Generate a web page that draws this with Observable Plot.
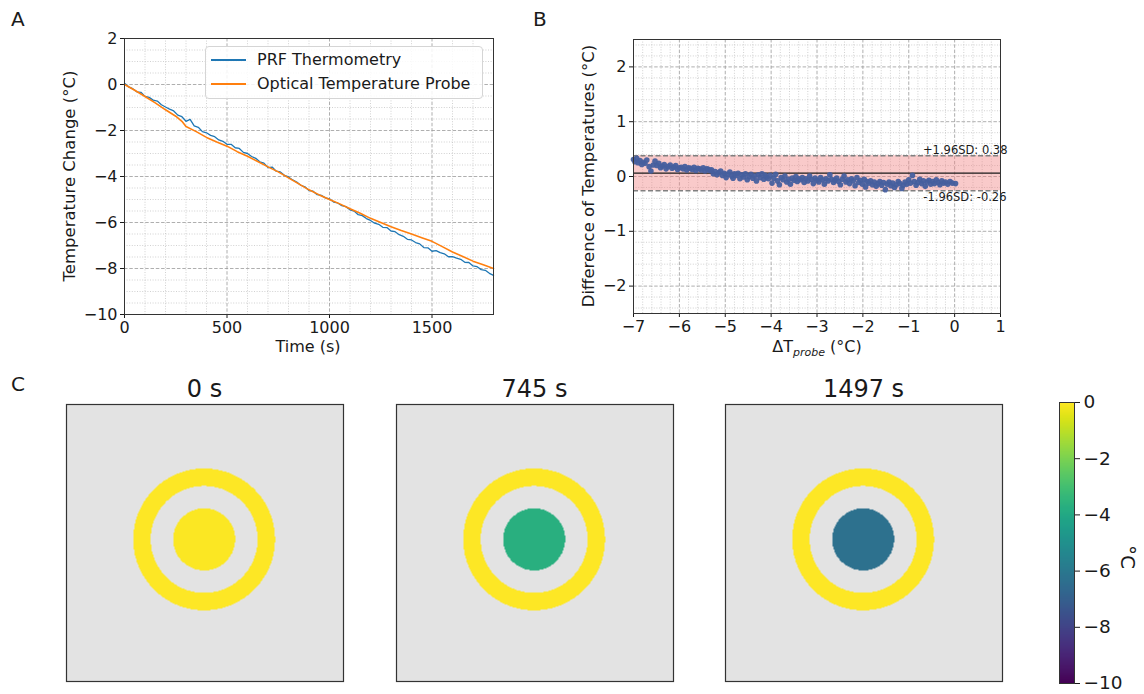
<!DOCTYPE html>
<html><head><meta charset="utf-8">
<script src="https://cdn.jsdelivr.net/npm/d3@7"></script>
<script src="https://cdn.jsdelivr.net/npm/@observablehq/plot@0.6"></script>
<style>
body{margin:0;background:#fff;font-family:"DejaVu Sans",sans-serif;}
#fig{position:relative;width:1144px;height:694px;overflow:hidden;background:#fff;}
.t{position:absolute;white-space:nowrap;color:#1a1a1a;line-height:1;}
.plot{position:absolute;}
</style></head><body><div id="fig"></div>
<script>
// ---------- Panel A data ----------
const prfTime = [0,20,40,60,80,100,120,140,160,180,200,220,240,260,280,300,320,340,360,380,400,420,440,460,480,500,520,540,560,580,600,620,640,660,680,700,720,740,760,780,800,820,840,860,880,900,920,940,960,980,1000,1020,1040,1060,1080,1100,1120,1140,1160,1180,1200,1220,1240,1260,1280,1300,1320,1340,1360,1380,1400,1420,1440,1460,1480,1500,1520,1540,1560,1580,1600,1620,1640,1660,1680,1700,1720,1740,1760,1780,1800];
const prfTemp = [0.05,-0.10,-0.18,-0.32,-0.34,-0.52,-0.56,-0.68,-0.72,-0.88,-0.98,-1.07,-1.15,-1.33,-1.40,-1.60,-1.52,-1.80,-1.86,-2.05,-2.10,-2.21,-2.27,-2.41,-2.47,-2.60,-2.60,-2.75,-2.78,-2.95,-3.00,-3.13,-3.21,-3.36,-3.42,-3.61,-3.59,-3.77,-3.80,-3.95,-4.02,-4.15,-4.24,-4.38,-4.45,-4.61,-4.64,-4.79,-4.82,-4.93,-4.97,-5.11,-5.15,-5.27,-5.31,-5.45,-5.50,-5.66,-5.70,-5.83,-5.91,-6.03,-6.08,-6.21,-6.22,-6.37,-6.40,-6.53,-6.60,-6.73,-6.76,-6.87,-6.93,-7.09,-7.10,-7.25,-7.22,-7.31,-7.36,-7.49,-7.48,-7.55,-7.60,-7.73,-7.74,-7.89,-7.92,-8.05,-8.08,-8.21,-8.30];
const probeTime = [0,50,100,150,200,250,280,300,350,400,450,500,550,600,650,700,750,800,850,900,950,1000,1050,1100,1150,1200,1250,1300,1350,1400,1450,1500,1550,1600,1650,1700,1750,1800];
const probeTemp = [0,-0.25,-0.52,-0.80,-1.10,-1.38,-1.60,-1.83,-2.05,-2.30,-2.50,-2.68,-2.92,-3.12,-3.35,-3.58,-3.80,-4.06,-4.32,-4.58,-4.80,-5.00,-5.19,-5.40,-5.60,-5.82,-6.00,-6.18,-6.35,-6.50,-6.66,-6.82,-7.05,-7.28,-7.48,-7.68,-7.84,-8.00];
const seriesNames = ["PRF Thermometry","Optical Temperature Probe"];
const xMajorA = [0,500,1000,1500];
const xMinorA = [100,200,300,400,600,700,800,900,1100,1200,1300,1400,1600,1700];
const yMajorA = [-10,-8,-6,-4,-2,0,2];
const yMinorA = [-9.5,-9,-8.5,-7.5,-7,-6.5,-5.5,-5,-4.5,-3.5,-3,-2.5,-1.5,-1,-0.5,0.5,1,1.5];

// ---------- Panel B data ----------
const probeDelta = [-7.00,-6.97,-6.93,-6.90,-6.86,-6.82,-6.79,-6.75,-6.71,-6.66,-6.62,-6.57,-6.53,
 -6.49,-6.45,-6.41,-6.37,-6.33,-6.29,-6.25,-6.20,-6.16,-6.12,-6.08,-6.04,-6.00,
 -5.96,-5.92,-5.88,-5.84,-5.80,-5.76,-5.72,-5.68,-5.64,-5.60,-5.56,-5.52,-5.48,-5.44,-5.40,-5.37,-5.33,-5.30,
 -5.26,-5.22,-5.18,-5.14,-5.10,-5.06,-5.02,-4.98,-4.94,-4.90,-4.86,-4.83,-4.80,
 -4.76,-4.72,-4.68,-4.64,-4.60,-4.56,-4.52,-4.48,-4.44,-4.40,-4.36,-4.32,-4.28,-4.24,-4.20,-4.16,-4.13,-4.10,
 -4.06,-4.02,-3.98,-3.94,-3.90,-3.86,-3.82,-3.78,-3.74,-3.70,-3.66,-3.62,-3.58,-3.54,-3.50,-3.46,-3.43,-3.40,
 -3.36,-3.32,-3.28,-3.24,-3.20,-3.16,-3.12,-3.08,-3.04,-3.00,-2.96,-2.92,-2.88,-2.84,-2.80,-2.76,-2.72,-2.68,-2.64,-2.61,
 -2.57,-2.53,-2.49,-2.45,-2.41,-2.37,-2.33,-2.29,-2.25,-2.21,-2.17,-2.13,-2.09,-2.05,-2.01,-1.97,-1.94,-1.91,
 -1.87,-1.83,-1.79,-1.75,-1.71,-1.67,-1.63,-1.59,-1.55,-1.51,-1.47,-1.43,-1.39,-1.35,-1.31,-1.27,-1.23,-1.19,-1.15,-1.12,
 -1.08,-1.04,-1.00,-0.96,-0.92,-0.88,-0.84,-0.80,-0.76,-0.72,-0.68,-0.64,-0.60,-0.56,-0.52,
 -0.48,-0.44,-0.40,-0.36,-0.32,-0.28,-0.24,-0.20,-0.15,-0.10,-0.05,0.02];
const tempDiff = [0.31,0.27,0.33,0.25,0.29,0.22,0.26,0.24,0.30,0.18,0.10,0.21,0.28,
 0.20,0.24,0.16,0.19,0.22,0.14,0.18,0.21,0.15,0.17,0.20,0.13,0.16,
 0.17,0.14,0.18,0.12,0.16,0.15,0.13,0.17,0.11,0.15,0.14,0.12,0.16,0.10,0.14,0.13,0.11,0.12,
 0.05,0.09,0.03,0.07,0.10,0.02,0.06,-0.02,0.04,0.08,0.01,-0.03,0.05,
 0.02,0.06,-0.04,0.03,-0.01,0.05,-0.06,0.00,0.04,-0.03,0.01,-0.08,0.03,-0.02,0.05,-0.05,0.02,-0.01,
 -0.04,0.02,-0.12,-0.03,0.04,-0.08,-0.15,-0.02,-0.06,0.01,-0.10,-0.05,-0.14,-0.03,-0.07,0.00,-0.09,-0.04,
 -0.06,-0.02,-0.11,-0.04,-0.08,0.01,-0.05,-0.13,-0.03,-0.07,-0.10,-0.02,-0.06,-0.14,-0.04,-0.08,0.03,-0.05,-0.11,-0.07,
 -0.03,-0.09,-0.15,-0.05,0.01,-0.10,-0.06,-0.13,-0.04,-0.08,-0.17,-0.02,-0.11,-0.07,-0.14,-0.05,-0.19,-0.09,
 -0.12,-0.08,-0.15,-0.10,-0.18,-0.13,-0.09,-0.16,-0.11,-0.24,-0.14,-0.10,-0.17,-0.12,-0.20,-0.15,-0.09,-0.13,-0.22,-0.16,
 -0.10,-0.14,-0.06,-0.12,0.02,-0.09,-0.16,-0.11,-0.05,-0.13,-0.08,-0.18,-0.10,-0.07,-0.14,
 -0.09,-0.13,-0.06,-0.11,-0.15,-0.08,-0.12,-0.10,-0.14,-0.09,-0.12,-0.13];
const limitUpper = 0.38, limitLower = -0.26, meanDiff = 0.06;
const xMajorB = [-7,-6,-5,-4,-3,-2,-1,0,1];
const xMinorB = [-6.8,-6.6,-6.4,-6.2,-5.8,-5.6,-5.4,-5.2,-4.8,-4.6,-4.4,-4.2,-3.8,-3.6,-3.4,-3.2,-2.8,-2.6,-2.4,-2.2,-1.8,-1.6,-1.4,-1.2,-0.8,-0.6,-0.4,-0.2,0.2,0.4,0.6,0.8];
const yMajorB = [-2,-1,0,1,2];
const yMinorB = [-2.4,-2.2,-1.8,-1.6,-1.4,-1.2,-0.8,-0.6,-0.4,-0.2,0.2,0.4,0.6,0.8,1.2,1.4,1.6,1.8,2.2,2.4];

// ---------- Panel C data ----------
const frameTitles = ["0 s","745 s","1497 s"];
const diskTemp = [-0.05,-3.7,-6.3];
const ringTemp = [0,0,0];
const phantom = {cx:49.7, cy:48.7, ringOuter:25.6, ringInner:19.3, disk:11.2};
const colorTicks = [0,-2,-4,-6,-8,-10];

// ---------- helpers ----------
const fig = document.getElementById("fig");
const fmt = d => d < 0 ? "\u2212" + Math.abs(d) : String(d);
function put(node, left, top){ node.classList.add("plot"); node.style.left = left+"px"; node.style.top = top+"px"; fig.appendChild(node); return node; }
function text(html, x, y, size, opts={}){
  const d = document.createElement("div"); d.className="t"; d.innerHTML = html;
  d.style.fontSize = size+"px"; d.style.left = x+"px"; d.style.top = y+"px";
  const rot = opts.rotate || 0; const ax = opts.anchor || "center";
  let tx = ax==="center" ? "-50%" : (ax==="end" ? "-100%" : "0");
  d.style.transform = `translate(${tx},-50%) rotate(${rot}deg)`;
  fig.appendChild(d); return d;
}
const baseStyle = {fontFamily:"DejaVu Sans", fontSize:"16px", color:"#1a1a1a", background:"transparent", overflow:"visible"};
const gridMajor = {stroke:"#9a9a9a", strokeDasharray:"3.5,1.8", strokeWidth:0.8};
const gridMinor = {stroke:"#bdbdbd", strokeDasharray:"1,1.6", strokeWidth:0.7};

// ---------- Panel A ----------
const prf = prfTime.map((t,i)=>({t, v:prfTemp[i]}));
const probe = probeTime.map((t,i)=>({t, v:probeTemp[i]}));
const A = Plot.plot({
  width:510, height:360, marginLeft:124, marginRight:17, marginTop:38, marginBottom:46,
  style: baseStyle,
  x:{domain:[0,1800], ticks:xMajorA, tickFormat:fmt, tickSize:4, tickPadding:3, label:null},
  y:{domain:[-10,2], ticks:yMajorA, tickFormat:fmt, tickSize:4, tickPadding:3, label:null},
  marks:[
    Plot.ruleX(xMinorA, gridMinor), Plot.ruleY(yMinorA, gridMinor),
    Plot.ruleX(xMajorA, gridMajor), Plot.ruleY(yMajorA, gridMajor),
    Plot.line(prf, {x:"t", y:"v", stroke:"#1f77b4", strokeWidth:1.3}),
    Plot.line(probe, {x:"t", y:"v", stroke:"#ff7f0e", strokeWidth:1.6}),
    Plot.frame({stroke:"#333", strokeWidth:1})
  ]
});
put(A, 0, 0);
text("Time (s)", 308, 347, 16);
text("Temperature Change (°C)", 70, 176, 16.5, {rotate:-90});
// legend
const leg = document.createElement("div");
Object.assign(leg.style,{position:"absolute",left:"205px",top:"46px",width:"278px",height:"53px",border:"1px solid #d5d5d5",borderRadius:"4px",background:"rgba(255,255,255,0.85)",boxSizing:"border-box"});
fig.appendChild(leg);
[["#1f77b4",60,1.5],["#ff7f0e",84,2]].forEach(([c,y,w],i)=>{
  const s = document.createElement("div");
  Object.assign(s.style,{position:"absolute",left:"211px",top:(y-w/2)+"px",width:"35px",height:w+"px",background:c});
  fig.appendChild(s);
  text(seriesNames[i], 257, y, 16, {anchor:"start"});
});
text("A", 11, 19, 20, {anchor:"start"});

// ---------- Panel B ----------
const diffData = probeDelta.map((x,i)=>({x, y:tempDiff[i]}));
const B = Plot.plot({
  width:520, height:360, marginLeft:133, marginRight:20, marginTop:39, marginBottom:47,
  style: baseStyle,
  x:{domain:[-7,1], ticks:xMajorB, tickFormat:fmt, tickSize:4, tickPadding:3, label:null},
  y:{domain:[-2.5,2.5], ticks:yMajorB, tickFormat:fmt, tickSize:4, tickPadding:3, label:null},
  marks:[
    Plot.ruleX(xMinorB, gridMinor), Plot.ruleY(yMinorB, gridMinor),
    Plot.ruleX(xMajorB, gridMajor), Plot.ruleY(yMajorB, gridMajor),
    Plot.rect([{lo:limitLower, hi:limitUpper}], {y1:"lo", y2:"hi", fill:"#f08080", fillOpacity:0.42}),
    Plot.ruleY([limitUpper, limitLower], {stroke:"#808080", strokeDasharray:"5,2.5", strokeWidth:1.4}),
    Plot.ruleY([meanDiff], {stroke:"#1a1a1a", strokeWidth:1.3}),
    Plot.dot(diffData, {x:"x", y:"y", r:2.8, fill:"#465f9e", fillOpacity:0.95}),
    Plot.text([limitUpper], {y:d=>d, text:d=>"+1.96SD: "+d.toFixed(2), frameAnchor:"right", textAnchor:"end", lineAnchor:"bottom", dx:7, dy:-2, fontSize:11.5, fill:"#1a1a1a"}),
    Plot.text([limitLower], {y:d=>d, text:d=>"-1.96SD: "+d.toFixed(2), frameAnchor:"right", textAnchor:"end", lineAnchor:"top", dx:6, dy:2, fontSize:11.5, fill:"#1a1a1a"}),
    Plot.frame({stroke:"#333", strokeWidth:1})
  ]
});
put(B, 500, 0);
text("ΔT<sub style='font-size:11px;font-style:italic;vertical-align:-4px'>probe</sub> (°C)", 817, 348, 16);
text("Difference of Temperatures (°C)", 589, 176, 16.5, {rotate:-90});
text("B", 533, 19, 20, {anchor:"start"});

// ---------- Panel C ----------
const color = {type:"linear", scheme:"viridis", domain:[-10,0]};
const squareLeft = [66, 396, 725];
frameTitles.forEach((title,i)=>{
  const fillFn = (x,y) => {
    const r = Math.hypot(x-phantom.cx, y-phantom.cy);
    if (r <= phantom.disk) return diskTemp[i];
    if (r >= phantom.ringInner && r <= phantom.ringOuter) return ringTemp[i];
    return NaN;
  };
  const P = Plot.plot({
    width:277, height:277, margin:0,
    style:{background:"transparent", overflow:"visible"},
    x:{domain:[0,100], axis:null}, y:{domain:[100,0], axis:null},
    color,
    marks:[
      Plot.frame({fill:"#e3e3e3"}),
      Plot.raster({fill:fillFn, x1:0, y1:0, x2:100, y2:100, width:277, height:277}),
      Plot.frame({stroke:"#333", strokeWidth:1.2})
    ]
  });
  put(P, squareLeft[i], 404);
  text(title, squareLeft[i]+138.5, 389, 24);
});
text("C", 11, 384, 20, {anchor:"start"});

// colorbar
const CB = Plot.plot({
  width:100, height:310, marginLeft:19, marginRight:66, marginTop:21, marginBottom:8,
  style:{...baseStyle, fontSize:"18.5px"},
  x:{domain:[0,1], axis:null},
  y:{domain:[-10,0], axis:"right", ticks:colorTicks, tickFormat:fmt, tickSize:5, tickPadding:4, label:null},
  color,
  marks:[
    Plot.raster({fill:(x,y)=>y, x1:0, x2:1, y1:-10, y2:0, width:1, height:256}),
    Plot.frame({stroke:"#333", strokeWidth:1})
  ]
});
put(CB, 1040, 381);
text("°C", 1128, 557, 20, {rotate:90});
</script></body></html>
